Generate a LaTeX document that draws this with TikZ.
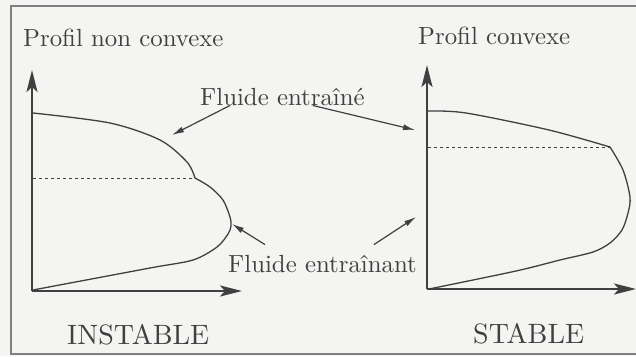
\documentclass[tikz,border=0pt]{standalone}
\usetikzlibrary{arrows.meta}
\definecolor{ink}{HTML}{404040}
\definecolor{paper}{HTML}{F4F4F2}
\newcommand{\bigtxt}[2]{\scalebox{#1}{\fontsize{10}{12}\selectfont #2}}

\begin{document}
\begin{tikzpicture}[x=1pt,y=-1pt,
  axis/.style={ink,line width=2.6pt,-{Stealth[length=22pt,width=11pt,inset=5pt]}},
  pointer/.style={ink,line width=1.2pt,-{Latex[length=12pt,width=6pt]}},
  profile/.style={ink,line width=1.3pt},
  level/.style={ink,dashed,line width=.9pt},
  label/.style={ink,inner sep=0pt,anchor=base west}]
\fill[paper] (0,0) rectangle (636,356);
\useasboundingbox (0,0) rectangle (636,356);
\draw[gray,line width=1.2pt] (636,6) -- (11,6) -- (11,354) -- (636,354);
% titles and labels
\node[label] (tNC) at (23,46) {\bigtxt{2.48}{Profil non convexe}};
\node[label] (tC) at (418,44) {\bigtxt{2.48}{Profil convexe}};
\node[label] (fe) at (200,105) {\bigtxt{2.48}{Fluide entra\^in\'e}};
\node[label] (fen) at (228,272) {\bigtxt{2.48}{Fluide entra\^inant}};
\node[label] (inst) at (67,344) {\bigtxt{2.8}{INSTABLE}};
\node[label] (stab) at (473,343) {\bigtxt{2.8}{STABLE}};
% left: non convex profile
\coordinate (oL) at (32,291);
\coordinate (yL) at (32,70);
\coordinate (xL) at (242,291);
\draw[axis] (oL) -- (yL);
\draw[axis] (oL) -- (xL);
\draw[profile] plot[smooth] coordinates {(33,113)(110,123)(160,140)(187,162)(195,178)};
\draw[profile] plot[smooth] coordinates
  {(195,178)(210,187)(223,200)(230,217)(231,226)(228,234)(217,247)(193,260)(150,268)(33,290)};
\draw[level] (33,178) -- (195,178);
% right: convex profile
\coordinate (oR) at (427,289);
\coordinate (yR) at (427,65);
\coordinate (xR) at (636,289);
\draw[axis] (oR) -- (yR);
\draw[axis] (oR) -- (xR);
\draw[profile] plot[smooth] coordinates {(428,111)(466,113)(549,130)(610,147)};
\draw[profile] plot[smooth] coordinates
  {(610,147)(623,170)(630,197)(628,213)(622,230)(610,243)(593,252)(560,260)(516,271)(429,289)};
\draw[level] (428,147) -- (610,147);
% pointers
\coordinate (pA) at (172,135);
\coordinate (pB) at (415,130);
\coordinate (pC) at (232,224);
\coordinate (pD) at (416,217);
\draw[pointer] ([xshift=30pt]fe.south west) -- (pA);
\draw[pointer] ([xshift=-52pt]fe.south east) -- (pB);
\draw[pointer] ([xshift=37pt,yshift=10pt]fen.north west) -- (pC);
\draw[pointer] ([xshift=-43pt,yshift=10pt]fen.north east) -- (pD);
\end{tikzpicture}
\end{document}
